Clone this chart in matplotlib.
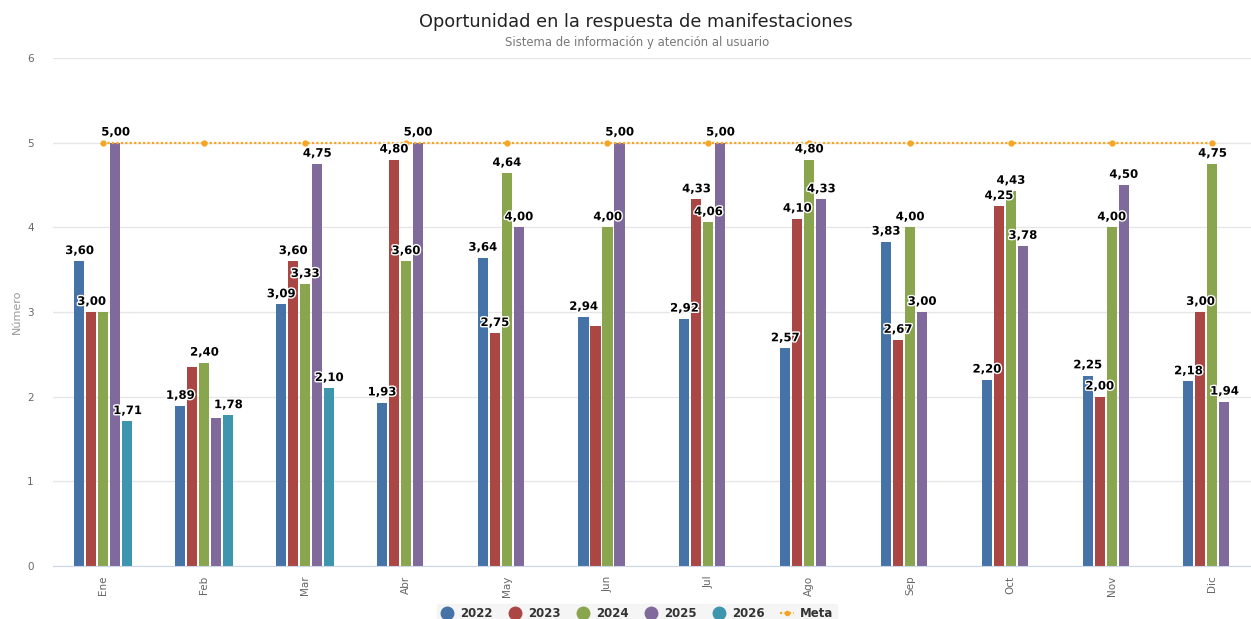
import matplotlib.pyplot as plt
import numpy as np
import matplotlib.patheffects as pe
from matplotlib.lines import Line2D

# Data
meses = ['Ene', 'Feb', 'Mar', 'Abr', 'May', 'Jun', 'Jul', 'Ago', 'Sep', 'Oct', 'Nov', 'Dic']
v2022 = [3.60, 1.89, 3.09, 1.93, 3.64, 2.94, 2.92, 2.57, 3.83, 2.20, 2.25, 2.18]
v2023 = [3.00, 2.35, 3.60, 4.80, 2.75, 2.83, 4.33, 4.10, 2.67, 4.25, 2.00, 3.00]
v2024 = [3.00, 2.40, 3.33, 3.60, 4.64, 4.00, 4.06, 4.80, 4.00, 4.43, 4.00, 4.75]
v2025 = [5.00, 1.75, 4.75, 5.00, 4.00, 5.00, 5.00, 4.33, 3.00, 3.78, 4.50, 1.94]
v2026 = [1.71, 1.78, 2.10, None, None, None, None, None, None, None, None, None]
meta = [5, 5, 5, 5, 5, 5, 5, 5, 5, 5, 5, 5]

series = [('2022', v2022, '#4572A7'),
          ('2023', v2023, '#AA4643'),
          ('2024', v2024, '#89A54E'),
          ('2025', v2025, '#80699B'),
          ('2026', v2026, '#3D96AE')]

fig = plt.figure(figsize=(12.51, 6.19), dpi=100)
ax = fig.add_axes([0.0424, 0.0856, 0.967, 0.8207])

x = np.arange(len(meses))
step = 0.119
width = 0.1

bars = []  # (value, order, xpos, month)
for i, (name, vals, color) in enumerate(series):
    off = (i - 2) * step
    for j, v in enumerate(vals):
        if v is None:
            continue
        ax.bar(x[j] + off, v, width=width, color=color, zorder=2)
        bars.append((v, i, x[j] + off, j))

ax.plot(x, meta, color='#F5A623', linestyle=(0, (1, 1)), linewidth=1.6,
        marker='o', markersize=3.5, zorder=3)

ax.set_xlim(-0.5, len(meses) - 0.5)
ax.set_ylim(0, 6)
ax.set_yticks(range(7))
ax.set_xticks(x)
ax.set_xticklabels(meses, rotation=90, fontsize=7.5, color='#666666')
ax.tick_params(axis='y', labelsize=7.5, labelcolor='#666666', length=0, pad=14)
ax.tick_params(axis='x', length=0, pad=7)
ax.grid(axis='y', color='#e6e6e6', linewidth=1, zorder=0)
for s in ['top', 'right', 'left']:
    ax.spines[s].set_visible(False)
ax.spines['bottom'].set_color('#ccd6eb')
ax.set_ylabel('Número', fontsize=8, color='#999999', labelpad=4)

fig.text(0.508, 0.965, 'Oportunidad en la respuesta de manifestaciones',
         ha='center', va='center', fontsize=12.8, color='#222222')
fig.text(0.509, 0.932, 'Sistema de información y atención al usuario',
         ha='center', va='center', fontsize=8.4, color='#777777')

# data labels, higher bars first, hide overlapping ones
fig.canvas.draw()
renderer = fig.canvas.get_renderer()
placed = []
for v, i, xp, j in sorted(bars, key=lambda b: (-b[0], b[1])):
    t = ax.annotate(('%.2f' % v).replace('.', ','), (xp, v), xytext=(0, 3),
                    textcoords='offset points', ha='center', va='bottom',
                    fontsize=8.4, fontweight='bold', color='black', zorder=5,
                    path_effects=[pe.withStroke(linewidth=2, foreground='white')])
    bb = t.get_window_extent(renderer).expanded(0.95, 1.0)
    if any(bb.overlaps(p) for p in placed):
        t.remove()
    else:
        placed.append(bb)

handles = [Line2D([], [], marker='o', linestyle='none', markersize=9,
                  markerfacecolor=c, markeredgecolor=c, label=n) for n, _, c in series]
handles.append(Line2D([], [], color='#F5A623', linestyle=(0, (1, 1)), linewidth=1.6,
                      marker='o', markersize=3, label='Meta'))
leg = fig.legend(handles=handles, loc='upper center', bbox_to_anchor=(0.509, 0.034),
                 ncol=6, frameon=True, fontsize=8.5, handlelength=1.2,
                 handletextpad=0.5, columnspacing=1.3, borderpad=0.3)
leg.get_frame().set_facecolor('#f3f3f3')
leg.get_frame().set_edgecolor('#f3f3f3')
for txt in leg.get_texts():
    txt.set_fontweight('bold')
    txt.set_color('#333333')

fig.savefig('out.png', dpi=100)
